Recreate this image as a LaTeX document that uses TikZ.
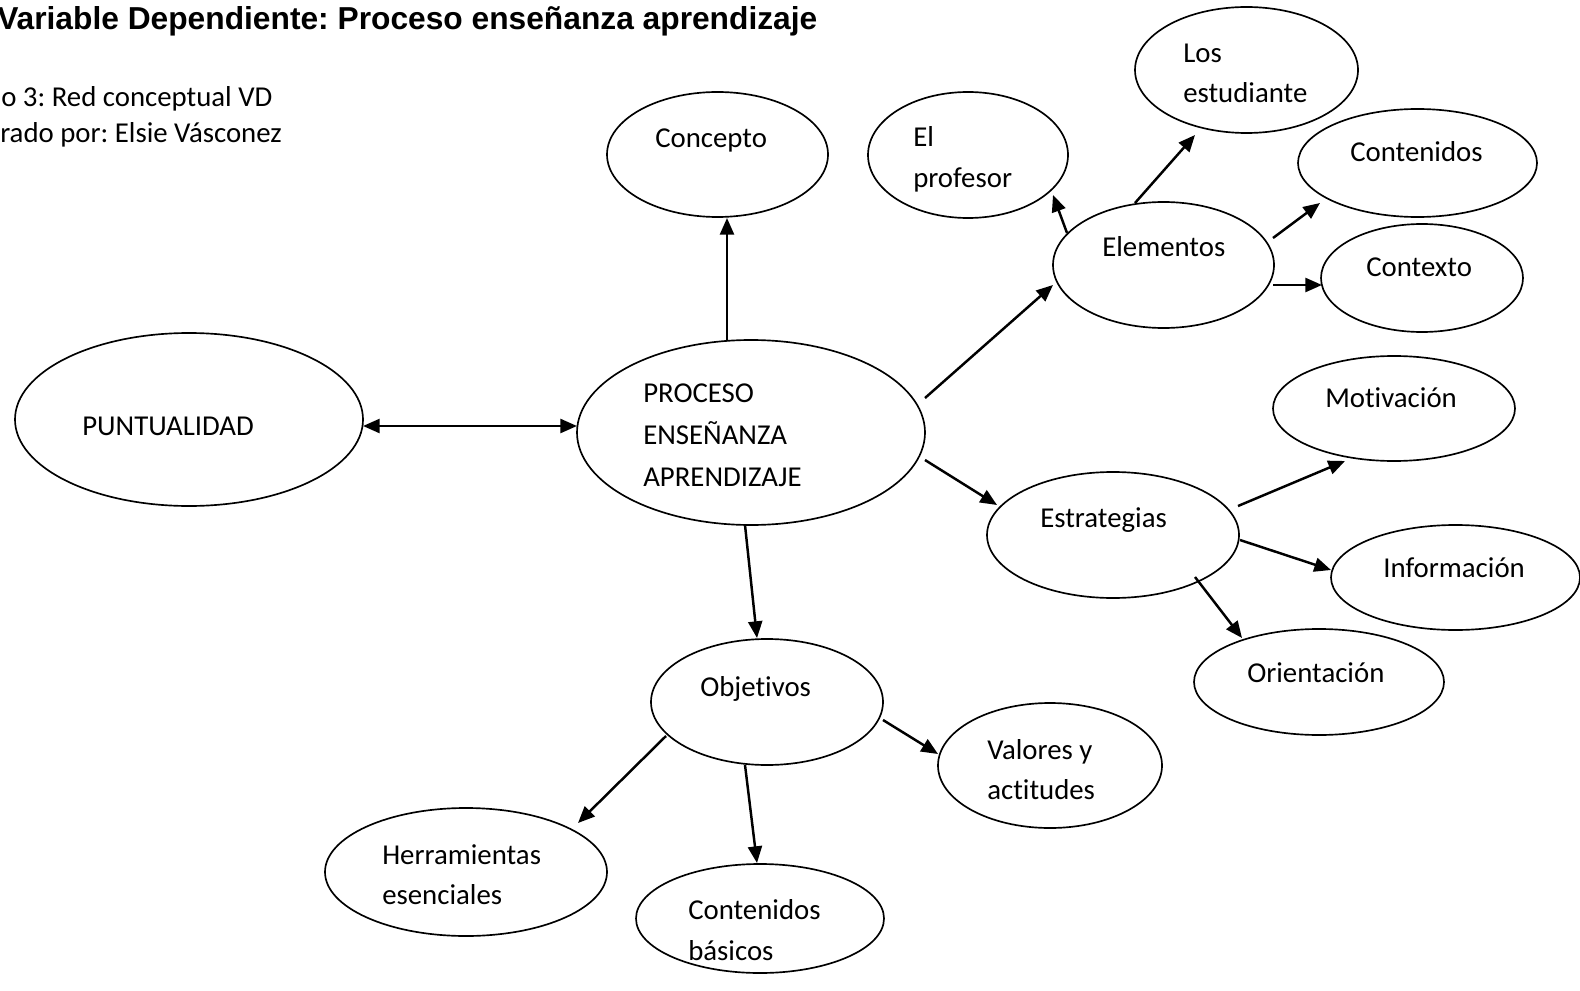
\documentclass[tikz,border=0pt]{standalone}
\usepackage{fontspec}
\setmainfont[Ligatures={NoCommon}]{Carlito}
\newfontfamily\titlefont{Liberation Sans}
\frenchspacing
\usetikzlibrary{arrows.meta,calc,shapes.geometric}
\begin{document}
\frenchspacing
\begin{tikzpicture}[x=0.75pt, y=-0.75pt,
  ell/.style n args={2}{ellipse, draw, line width=1.25pt, inner sep=0pt, outer sep=0pt,
     minimum width={#1*0.75pt}, minimum height={#2*0.75pt}},
  txt/.style={anchor=west, inner sep=0pt, text height=13.9pt, text depth=0pt,
     font=\fontsize{21.6}{26}\selectfont},
  conn/.style={line width=1.85pt, -{Triangle[length=12.5pt,width=10.5pt]}},
  biconn/.style={line width=1.85pt, {Triangle[length=12.5pt,width=10.5pt]}-{Triangle[length=12.5pt,width=10.5pt]}}]
\useasboundingbox (0,0) rectangle (1580,991);

% title and captions
\node[anchor=base west, inner sep=0pt, font=\titlefont\bfseries\fontsize{23.8}{28}\selectfont] (title) at (-3,30) {Variable Dependiente: Proceso enseñanza aprendizaje};
\node[txt] (cap1) at (1,97) {o 3: Red conceptual VD};
\node[txt] (cap2) at (0,133) {rado por: Elsie Vásconez};

% ellipses
\node[ell={348}{173}] (punt) at (189,419.5) {};
\node[ell={348}{185}] (proc) at (751,432.5) {};
\node[ell={221}{125}] (conc) at (717.5,154.5) {};
\node[ell={200}{126}] (prof) at (968,155) {};
\node[ell={223}{126}] (estu) at (1246.5,70) {};
\node[ell={221}{126}] (elem) at (1163.5,265) {};
\node[ell={239}{108}] (cont) at (1417.5,163) {};
\node[ell={202}{108}] (ctx) at (1422,278) {};
\node[ell={242}{105}] (moti) at (1394,408.5) {};
\node[ell={252}{126}] (estr) at (1113,535) {};
\node[ell={249}{105}] (info) at (1455.5,577.5) {};
\node[ell={250}{106}] (orie) at (1319,682) {};
\node[ell={232}{126}] (obj) at (767,702) {};
\node[ell={224}{125}] (val) at (1050,765.5) {};
\node[ell={282}{128}] (herr) at (466,872) {};
\node[ell={248}{109}] (cbas) at (760,918.5) {};

% texts
\node[txt] (punt-t) at (82,426) {PUNTUALIDAD};
\node[txt] (proc-t1) at (643,393) {PROCESO};
\node[txt] (proc-t2) at (643,435) {ENSEÑANZA};
\node[txt] (proc-t3) at (643,477) {APRENDIZAJE};
\node[txt] (conc-t) at (655,138) {Concepto};
\node[txt] (prof-t1) at (913,137) {El};
\node[txt] (prof-t2) at (913,178) {profesor};
\node[txt] (estu-t1) at (1183,53) {Los};
\node[txt] (estu-t2) at (1183,93) {estudiante};
\node[txt] (elem-t) at (1102,247) {Elementos};
\node[txt] (cont-t) at (1350,152) {Contenidos};
\node[txt] (ctx-t) at (1366,267) {Contexto};
\node[txt] (moti-t) at (1325,398) {Motivación};
\node[txt] (estr-t) at (1040,518) {Estrategias};
\node[txt] (info-t) at (1383,568) {Información};
\node[txt] (orie-t) at (1247,673) {Orientación};
\node[txt] (obj-t) at (700,687) {Objetivos};
\node[txt] (val-t1) at (987,750) {Valores y};
\node[txt] (val-t2) at (987,790) {actitudes};
\node[txt] (herr-t1) at (382,855) {Herramientas};
\node[txt] (herr-t2) at (382,895) {esenciales};
\node[txt] (cbas-t1) at (688,910) {Contenidos};
\node[txt] (cbas-t2) at (688,951) {básicos};

% connectors
\draw[biconn] ($(punt.center)+(174,6.5)$) -- ($(proc.center)+(-174,-6.5)$);
\draw[conn] ($(proc.center)+(-24,-92.5)$) -- ($(conc.center)+(9.5,63.5)$);
\draw[conn] ($(proc.center)+(174,-34.5)$) -- ($(elem.center)+(-110.5,20)$);
\draw[conn] ($(proc.center)+(174,27.5)$) -- ($(estr.center)+(-116,-30)$);
\draw[conn] ($(proc.center)+(-6,92.5)$) -- ($(obj.center)+(-10,-64)$);
\draw[conn] ($(elem.center)+(-96.5,-32)$) -- ($(prof.center)+(85,40)$);
\draw[conn] ($(elem.center)+(-28.5,-62)$) -- ($(estu.center)+(-51.5,65)$);
\draw[conn] ($(elem.center)+(109.5,-27)$) -- ($(cont.center)+(-97.5,40)$);
\draw[conn] ($(elem.center)+(109.5,20)$) -- ($(ctx.center)+(-100,7)$);
\draw[conn] ($(estr.center)+(125,-29)$) -- ($(moti.center)+(-49,52.5)$);
\draw[conn] ($(estr.center)+(127,5)$) -- ($(info.center)+(-124.5,-7.5)$);
\draw[conn] ($(estr.center)+(82,42)$) -- ($(orie.center)+(-77,-44)$);
\draw[conn] ($(obj.center)+(116,18)$) -- ($(val.center)+(-112,-11.5)$);
\draw[conn] ($(obj.center)+(-101,34)$) -- ($(herr.center)+(112,-49)$);
\draw[conn] ($(obj.center)+(-22,63)$) -- ($(cbas.center)+(-3,-55.5)$);
\end{tikzpicture}
\end{document}
